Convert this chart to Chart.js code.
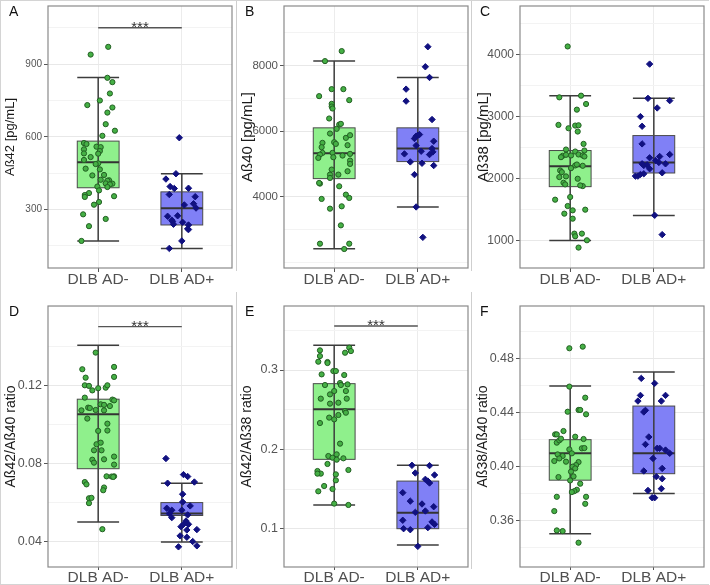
<!DOCTYPE html>
<html>
<head>
<meta charset="utf-8">
<script src="https://cdn.jsdelivr.net/npm/chart.js@4.4.1/dist/chart.umd.min.js"></script>
<style>
  body { margin: 0; background: #fff; font-family: "Liberation Sans", Arial, sans-serif; }
  #fig { position: relative; width: 708px; height: 583px; overflow: hidden; border: 1px solid #d4d4d4; border-right: none; }
  .pan { position: absolute; width: 236px; }
  .pan canvas { position: absolute; left: 0; top: 0; }
  .lettre { position: absolute; font-size: 14px; color: #111; }
  .sep { position: absolute; width: 1px; background: #cfcfcf; }
</style>
</head>
<body>
<div id="fig">
  <div class="sep" style="left:235px;top:0;height:270px"></div>
  <div class="sep" style="left:470px;top:0;height:270px"></div>
  <div class="sep" style="left:235px;top:291px;height:277px"></div>
  <div class="sep" style="left:470px;top:291px;height:277px"></div>
  <div class="pan" style="left:0;top:0;height:290px"><canvas id="cA" width="236" height="290"></canvas></div>
  <div class="pan" style="left:236px;top:0;height:290px"><canvas id="cB" width="236" height="290"></canvas></div>
  <div class="pan" style="left:472px;top:0;height:290px"><canvas id="cC" width="236" height="290"></canvas></div>
  <div class="pan" style="left:0;top:290px;height:295px"><canvas id="cD" width="236" height="295"></canvas></div>
  <div class="pan" style="left:236px;top:290px;height:295px"><canvas id="cE" width="236" height="295"></canvas></div>
  <div class="pan" style="left:472px;top:290px;height:295px"><canvas id="cF" width="236" height="295"></canvas></div>
  <div class="lettre" style="left:8px;top:2px">A</div>
  <div class="lettre" style="left:244px;top:2px">B</div>
  <div class="lettre" style="left:479px;top:2px">C</div>
  <div class="lettre" style="left:8px;top:302px">D</div>
  <div class="lettre" style="left:244px;top:302px">E</div>
  <div class="lettre" style="left:479px;top:302px">F</div>
</div>
<script>
Chart.defaults.font.family = "'Liberation Sans', Arial, sans-serif"

const groups = ['DLB AD-', 'DLB AD+']

// valeurs (AD- = 1, AD+ = 2), jitter horizontal en unites de categorie
const valA1 = [972, 940, 844, 826, 779, 750, 731, 721, 700, 652, 625, 604, 574, 570, 548, 559, 557, 541, 531, 516, 530, 504, 490, 487, 468, 465, 442, 440, 422, 420, 418, 407, 406, 403, 394, 392, 378, 367, 359, 354, 351, 330, 319, 279, 260, 230, 169]
const jitA1 = [0.12, -0.09, 0.11, 0.17, 0.14, 0.02, -0.13, 0.17, 0.11, 0.09, 0.20, 0.05, -0.17, -0.14, -0.17, -0.02, 0.03, 0.02, -0.17, -0.09, 0.0, -0.17, 0.0, -0.03, -0.15, 0.02, 0.07, -0.07, 0.03, 0.13, 0.11, 0.09, 0.17, 0.14, -0.01, 0.11, 0.01, -0.11, -0.16, 0.19, -0.16, 0.01, -0.05, -0.18, 0.09, -0.11, -0.20]
const valA2 = [596, 447, 425, 394, 386, 387, 361, 352, 318, 323, 305, 271, 273, 255, 249, 238, 246, 235, 219, 216, 169, 138]
const jitA2 = [-0.03, -0.07, -0.19, -0.14, -0.09, 0.08, -0.15, 0.16, 0.03, 0.14, 0.17, -0.17, -0.05, -0.12, -0.11, -0.10, 0.01, 0.08, 0.07, 0.08, 0.0, -0.15]

const valB1 = [8436, 8131, 7279, 7279, 7066, 6944, 6832, 6751, 6690, 6386, 6203, 6223, 6071, 5929, 5797, 5878, 5645, 5665, 5614, 5574, 5513, 5340, 5289, 5340, 5259, 5208, 5310, 5188, 5107, 5005, 4782, 4833, 4680, 4680, 4579, 4406, 4426, 4325, 4071, 3970, 3940, 3716, 3645, 3137, 2579, 2579, 2417]
const jitB1 = [0.09, -0.11, -0.03, 0.11, -0.18, 0.18, -0.03, -0.03, -0.02, -0.06, 0.06, 0.08, 0.03, -0.05, 0.14, 0.19, -0.14, 0.0, 0.02, 0.16, -0.15, -0.14, -0.17, -0.02, 0.10, -0.01, 0.19, -0.19, 0.19, 0.19, 0.16, -0.03, -0.05, 0.05, -0.05, -0.17, -0.18, 0.06, 0.14, 0.18, -0.15, 0.09, -0.05, 0.08, -0.17, 0.18, 0.12]
const valB2 = [8568, 7959, 7634, 7279, 6914, 6355, 5848, 5878, 5898, 5777, 5696, 5564, 5391, 5472, 5371, 5310, 5289, 5066, 5025, 4955, 4680, 3696, 2772]
const jitB2 = [0.12, 0.09, 0.14, -0.14, -0.14, 0.17, -0.02, 0.0, 0.02, -0.04, 0.19, -0.02, 0.04, 0.17, 0.18, -0.16, 0.14, -0.09, 0.05, 0.19, -0.04, -0.02, 0.06]

const valC1 = [4125, 3305, 3332, 3198, 3107, 2861, 2807, 2850, 2855, 2754, 2555, 2464, 2448, 2432, 2363, 2341, 2379, 2368, 2384, 2368, 2352, 2127, 2100, 2207, 2223, 2202, 2164, 2020, 2031, 1993, 1929, 1902, 1875, 1886, 1699, 1656, 1554, 1495, 1431, 1484, 1350, 1109, 1109, 1066, 1002, 884]
const jitC1 = [-0.03, -0.13, 0.13, 0.19, 0.08, -0.14, -0.02, 0.06, 0.10, 0.09, 0.16, -0.05, 0.17, 0.06, -0.09, -0.11, -0.05, 0.01, 0.10, 0.15, 0.17, -0.12, -0.10, 0.06, 0.08, 0.15, 0.01, -0.13, -0.05, 0.09, -0.08, -0.06, 0.15, 0.12, 0.0, -0.18, -0.03, 0.18, -0.07, 0.03, 0.03, 0.05, 0.14, 0.06, 0.20, 0.10]
const valC2 = [3841, 3289, 3252, 3134, 2995, 2839, 2555, 2352, 2384, 2331, 2288, 2256, 2234, 2207, 2218, 2234, 2154, 2089, 2036, 2036, 2063, 2073, 1404, 1093]
const jitC2 = [-0.05, -0.07, 0.19, 0.04, -0.16, -0.14, -0.14, 0.07, 0.19, -0.05, 0.02, 0.06, -0.14, -0.12, -0.08, 0.14, -0.05, 0.10, -0.22, -0.19, -0.16, -0.12, 0.01, 0.10]

const valD1 = [0.1367, 0.1294, 0.1282, 0.1239, 0.1243, 0.1200, 0.1197, 0.1174, 0.1185, 0.1188, 0.1200, 0.1137, 0.1127, 0.1123, 0.1072, 0.1086, 0.1084, 0.1074, 0.1103, 0.1100, 0.1094, 0.1072, 0.1030, 0.1004, 0.0967, 0.0969, 0.0899, 0.0907, 0.0868, 0.0868, 0.0820, 0.0822, 0.0836, 0.0805, 0.0795, 0.0735, 0.0735, 0.0734, 0.0732, 0.0706, 0.0694, 0.0678, 0.0664, 0.0623, 0.0625, 0.0598, 0.0465]
const jitD1 = [-0.03, 0.19, -0.19, -0.15, 0.19, -0.16, -0.11, -0.07, 0.0, 0.09, 0.11, -0.16, 0.17, 0.19, -0.20, -0.12, -0.10, -0.03, 0.03, 0.07, 0.14, 0.07, -0.13, 0.11, 0.0, 0.11, -0.02, 0.03, -0.05, 0.04, -0.07, 0.07, 0.19, -0.05, 0.19, 0.19, 0.10, 0.16, 0.18, -0.16, -0.14, 0.07, 0.06, -0.11, -0.08, -0.11, 0.05]
const valD2 = [0.0826, 0.0700, 0.0744, 0.0734, 0.0706, 0.0644, 0.0584, 0.0604, 0.0572, 0.0562, 0.0545, 0.0562, 0.0524, 0.0538, 0.0507, 0.0478, 0.0490, 0.0490, 0.0463, 0.0461, 0.0431, 0.0424, 0.0402, 0.0380, 0.0375]
const jitD2 = [-0.19, -0.17, 0.02, 0.07, 0.15, 0.01, 0.10, 0.01, -0.18, -0.12, -0.15, 0.0, -0.12, 0.07, 0.05, -0.01, 0.02, 0.08, 0.18, 0.06, -0.02, 0.06, 0.13, 0.18, -0.04]

const valE1 = [0.3282, 0.3239, 0.3218, 0.3248, 0.3176, 0.3105, 0.3101, 0.3088, 0.2945, 0.2987, 0.2987, 0.2937, 0.2811, 0.2836, 0.2811, 0.2819, 0.2735, 0.2735, 0.2693, 0.2588, 0.2639, 0.2639, 0.2576, 0.2483, 0.2462, 0.2433, 0.2400, 0.2378, 0.2332, 0.2072, 0.1916, 0.1937, 0.1895, 0.1870, 0.1887, 0.1816, 0.1740, 0.1727, 0.1694, 0.1694, 0.1685, 0.1610, 0.1538, 0.1500, 0.1471, 0.1316, 0.1299]
const jitE1 = [0.18, 0.20, 0.13, -0.17, -0.17, -0.19, -0.08, -0.08, -0.15, -0.01, 0.02, 0.12, -0.11, 0.07, 0.08, 0.16, 0.0, 0.14, -0.05, 0.05, 0.15, -0.16, -0.05, 0.13, 0.14, 0.05, -0.06, 0.0, -0.17, 0.07, -0.07, 0.03, -0.02, 0.03, 0.11, -0.08, 0.17, -0.20, -0.16, -0.20, 0.02, 0.02, -0.12, -0.02, -0.19, 0.0, 0.17]
const valE2 = [0.1799, 0.1795, 0.1702, 0.1677, 0.1622, 0.1600, 0.1576, 0.1454, 0.1347, 0.1311, 0.1277, 0.1223, 0.1206, 0.1106, 0.1085, 0.1000, 0.0987, 0.1013, 0.1055, 0.0777]
const jitE2 = [-0.07, 0.14, -0.03, 0.20, 0.09, 0.12, 0.14, -0.18, -0.09, 0.05, 0.19, 0.09, -0.03, -0.18, 0.17, -0.17, -0.09, 0.12, 0.20, 0.0]

const valF1 = [0.4877, 0.4889, 0.4593, 0.4511, 0.4407, 0.4420, 0.4420, 0.4388, 0.4264, 0.4239, 0.4239, 0.4178, 0.4195, 0.4207, 0.4222, 0.4205, 0.4128, 0.4136, 0.4138, 0.4091, 0.4079, 0.4099, 0.4042, 0.4061, 0.4037, 0.4034, 0.4012, 0.4000, 0.3987, 0.3963, 0.3923, 0.3928, 0.3898, 0.3874, 0.3829, 0.3819, 0.3812, 0.3777, 0.3777, 0.3725, 0.3671, 0.3528, 0.3523, 0.3437]
const jitF1 = [-0.01, 0.15, -0.01, 0.18, -0.03, 0.10, 0.12, 0.19, -0.08, -0.18, -0.16, -0.16, -0.13, -0.11, 0.06, 0.16, -0.01, 0.14, 0.17, -0.15, -0.09, 0.02, -0.19, -0.13, -0.05, 0.10, 0.07, 0.03, 0.06, 0.01, -0.14, 0.04, 0.0, 0.12, 0.08, 0.05, 0.02, -0.16, 0.19, 0.18, -0.19, -0.16, -0.09, 0.10]
const valF2 = [0.4654, 0.4617, 0.4528, 0.4528, 0.4486, 0.4486, 0.4405, 0.4417, 0.4220, 0.4165, 0.4136, 0.4136, 0.4123, 0.4099, 0.4061, 0.3987, 0.3968, 0.3926, 0.3911, 0.3824, 0.3837, 0.3770, 0.3770]
const jitF2 = [-0.15, 0.01, -0.16, 0.14, -0.19, 0.09, -0.12, -0.10, -0.06, -0.10, 0.04, 0.07, 0.14, 0.19, -0.01, 0.10, -0.12, 0.03, 0.10, -0.07, 0.09, -0.02, 0.01]

// boites : [moustache basse, Q1, mediane, Q3, moustache haute]
const boxA1 = [169, 389, 495, 582, 845]
const boxA2 = [138, 235, 304, 372, 447]
const boxB1 = [2426, 4558, 5330, 6102, 8132]
const boxB2 = [3695, 5076, 5472, 6102, 7634]
const boxC1 = [1000, 1866, 2193, 2448, 3332]
const boxC2 = [1402, 2086, 2257, 2689, 3289]
const boxD1 = [0.0502, 0.0774, 0.1052, 0.1129, 0.1404]
const boxD2 = [0.0400, 0.0535, 0.0545, 0.0601, 0.0700]
const boxE1 = [0.1298, 0.1874, 0.2504, 0.2828, 0.3311]
const boxE2 = [0.0794, 0.1000, 0.1200, 0.1600, 0.1800]
const boxF1 = [0.3504, 0.3900, 0.4100, 0.4200, 0.4598]
const boxF2 = [0.3802, 0.3948, 0.4100, 0.4449, 0.4701]

// graduations etiquetees
const ticksA = [300, 600, 900]
const ticksB = [4000, 6000, 8000]
const ticksC = [1000, 2000, 3000, 4000]
const ticksD = [0.04, 0.08, 0.12]
const ticksE = [0.1, 0.2, 0.3]
const ticksF = [0.36, 0.40, 0.44, 0.48]

const fillVert = '#8ff08c'
const fillBleu = '#8080f6'

// plugin : boites a moustaches + crochet de significativite, dessines via les echelles
const boites = {
  id: 'boites',
  beforeDatasetsDraw(chart, args, opts) {
    const ctx = chart.ctx
    const x = chart.scales.x, y = chart.scales.y
    const trait = (x1, y1, x2, y2) => { ctx.beginPath(); ctx.moveTo(x1, y1); ctx.lineTo(x2, y2); ctx.stroke() }
    opts.stats.forEach((s, i) => {
      const c = i + 1
      const xl = x.getPixelForValue(c - 0.25), xr = x.getPixelForValue(c + 0.25), xc = x.getPixelForValue(c)
      const [lo, q1, med, q3, hi] = s.map(v => y.getPixelForValue(v))
      ctx.save()
      ctx.fillStyle = opts.fills[i]
      ctx.fillRect(xl, q3, xr - xl, q1 - q3)
      ctx.strokeStyle = '#3c3c3c'
      ctx.lineWidth = 1.5
      trait(xc, lo, xc, hi)
      trait(xl, lo, xr, lo)
      trait(xl, hi, xr, hi)
      ctx.lineWidth = 1
      ctx.strokeStyle = '#4a4a4a'
      ctx.strokeRect(xl, q3, xr - xl, q1 - q3)
      ctx.lineWidth = 2
      ctx.strokeStyle = '#333'
      trait(xl, med, xr, med)
      ctx.restore()
    })
    if (opts.sig != null) {
      const ys = y.getPixelForValue(opts.sig)
      const x1 = x.getPixelForValue(1), x2 = x.getPixelForValue(2)
      ctx.save()
      ctx.strokeStyle = '#555'
      ctx.lineWidth = 1.3
      trait(x1, ys, x2, ys)
      ctx.fillStyle = '#333'
      ctx.font = "15px 'Liberation Sans', Arial, sans-serif"
      ctx.textAlign = 'center'
      ctx.textBaseline = 'alphabetic'
      ctx.fillText('***', (x1 + x2) / 2, ys + 4)
      ctx.restore()
    }
  },
  afterDatasetsDraw(chart) {
    const a = chart.chartArea, ctx = chart.ctx
    ctx.save()
    ctx.strokeStyle = '#8a8a8a'
    ctx.lineWidth = 1.2
    ctx.strokeRect(a.left, a.top, a.right - a.left, a.bottom - a.top)
    ctx.restore()
  }
}

function panneau(id, p) {
  const marque = v => p.ticks.some(t => Math.abs(t - v) < p.step * 0.01)
  const haut = p.row === 0
  new Chart(document.getElementById(id), {
    type: 'scatter',
    data: {
      datasets: [{
        data: p.v1.map((v, i) => ({ x: 1 + p.j1[i], y: v })),
        pointStyle: 'circle', pointRadius: 2.6,
        backgroundColor: '#45b045', borderColor: '#235f23', borderWidth: 1
      }, {
        data: p.v2.map((v, i) => ({ x: 2 + p.j2[i], y: v })),
        pointStyle: 'rectRot', pointRadius: 3.2,
        backgroundColor: '#111180', borderColor: '#111180', borderWidth: 1
      }]
    },
    options: {
      responsive: false,
      animation: false,
      layout: { padding: { top: haut ? 5 : 15, right: 1, left: 0, bottom: 0 } },
      plugins: {
        legend: { display: false },
        tooltip: { enabled: false },
        boites: { stats: p.box, fills: [fillVert, fillBleu], sig: p.sig }
      },
      scales: {
        x: {
          type: 'linear', min: 0.4, max: 2.6,
          afterBuildTicks: s => { s.ticks = groups.map((g, i) => ({ value: i + 1 })) },
          afterFit: s => { s.height = haut ? 23 : 19; s.paddingLeft = 0; s.paddingRight = 0 },
          ticks: { callback: v => groups[Math.round(v) - 1], color: '#505050', font: { size: 15.5, lineHeight: 1 }, padding: 0, maxRotation: 0, autoSkip: false },
          grid: { color: '#ececec', tickColor: '#555', tickLength: haut ? 4 : 3 },
          border: { display: false }
        },
        y: {
          min: p.min, max: p.max,
          // lignes de grille a chaque pas (majeures et mineures)
          afterBuildTicks: s => {
            const t = []
            for (let v = Math.ceil(p.min / p.step) * p.step; v <= p.max; v += p.step) t.push({ value: +v.toFixed(6) })
            s.ticks = t
          },
          afterFit: s => { s.width = 47; s.paddingTop = 0; s.paddingBottom = 0 },
          ticks: {
            autoSkip: false,
            callback: v => marque(v) ? v.toFixed(p.dec) : '',
            color: '#555', font: { size: p.tf }, padding: 2
          },
          grid: {
            color: c => marque(c.tick.value) ? '#e8e8e8' : '#f3f3f3',
            tickColor: c => marque(c.tick.value) ? '#555' : 'rgba(0,0,0,0)',
            tickLength: 4
          },
          border: { display: false },
          title: { display: true, text: p.titre, color: '#1a1a1a', font: { size: p.ttf }, padding: { top: 2, bottom: 0 } }
        }
      }
    },
    plugins: [boites]
  })
}

panneau('cA', { row: 0, v1: valA1, j1: jitA1, v2: valA2, j2: jitA2, box: [boxA1, boxA2], sig: 1051, min: 57, max: 1141, step: 150, ticks: ticksA, dec: 0, tf: 10, ttf: 13, titre: 'Aß42 [pg/mL]' })
panneau('cB', { row: 0, v1: valB1, j1: jitB1, v2: valB2, j2: jitB2, box: [boxB1, boxB2], sig: null, min: 1840, max: 9807, step: 1000, ticks: ticksB, dec: 0, tf: 11.5, ttf: 15, titre: 'Aß40 [pg/mL]' })
panneau('cC', { row: 0, v1: valC1, j1: jitC1, v2: valC2, j2: jitC2, box: [boxC1, boxC2], sig: null, min: 555, max: 4777, step: 500, ticks: ticksC, dec: 0, tf: 12, ttf: 15, titre: 'Aß38 [pg/mL]' })
panneau('cD', { row: 1, v1: valD1, j1: jitD1, v2: valD2, j2: jitD2, box: [boxD1, boxD2], sig: 0.15, min: 0.0272, max: 0.1605, step: 0.02, ticks: ticksD, dec: 2, tf: 12.5, ttf: 14, titre: 'Aß42/Aß40 ratio' })
panneau('cE', { row: 1, v1: valE1, j1: jitE1, v2: valE2, j2: jitE2, box: [boxE1, boxE2], sig: 0.3555, min: 0.0517, max: 0.3807, step: 0.05, ticks: ticksE, dec: 1, tf: 12.5, ttf: 14, titre: 'Aß42/Aß38 ratio' })
panneau('cF', { row: 1, v1: valF1, j1: jitF1, v2: valF2, j2: jitF2, box: [boxF1, boxF2], sig: null, min: 0.3257, max: 0.519, step: 0.02, ticks: ticksF, dec: 2, tf: 12.5, ttf: 14, titre: 'Aß38/Aß40 ratio' })
</script>
</body>
</html>
